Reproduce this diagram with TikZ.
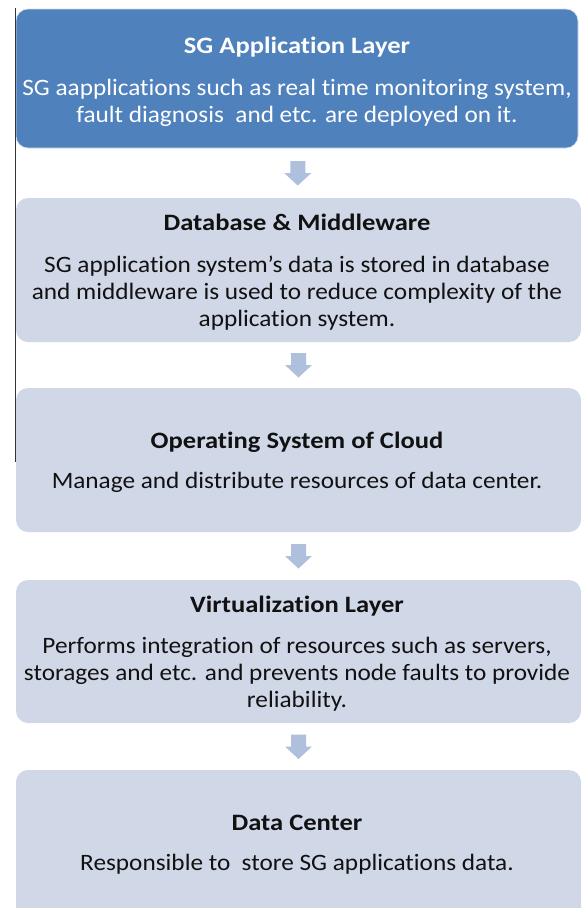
\documentclass[tikz,border=0pt]{standalone}
\usepackage{fontspec}
\setmainfont{Carlito}[Ligatures=NoCommon,FakeStretch=1.075]
\newfontfamily\layertitlefont{Carlito}[Ligatures=NoCommon,FakeStretch=1.13]
\usetikzlibrary{calc}
\definecolor{topblue}{HTML}{4F81BD}
\definecolor{lightbox}{HTML}{D0D8E8}
\definecolor{arrowblue}{HTML}{AFC0DD}
\definecolor{txt}{HTML}{111111}
\begin{document}
\begin{tikzpicture}[x=1pt,y=-1pt,
  layerbox/.style={rectangle,rounded corners=12pt,inner sep=0pt,fill=lightbox,draw=none},
  topbox/.style={layerbox,fill=topblue,draw=white!75!topblue,line width=0.6pt},
  ttl/.style={font=\layertitlefont\fontsize{23.5}{27}\selectfont\bfseries,text=txt,inner sep=0pt,anchor=base},
  body/.style={font=\fontsize{23.5}{27}\selectfont,text=txt,align=center,inner sep=0pt,anchor=base},
  blockarrow/.style={fill=arrowblue,draw=none}]
\useasboundingbox (0,0) rectangle (584,908);
\clip (0,0) rectangle (584,908);
\fill[white] (0,0) rectangle (584,908);
\node[topbox,minimum width=562pt,minimum height=139pt] (b1) at (297,78.5) {};
\node[layerbox,minimum width=565pt,minimum height=144pt] (b2) at (298.5,270) {};
\node[layerbox,minimum width=565pt,minimum height=144pt] (b3) at (298.5,460) {};
\node[layerbox,minimum width=565pt,minimum height=143pt] (b4) at (298.5,651.5) {};
\node[layerbox,minimum width=565pt,minimum height=170pt] (b5) at (298.5,855) {};
\draw[line width=1pt,draw=black!80] (15,8) coordinate (vtop) -- (15,462) coordinate (vbot);
% texts (multi-line nodes: base = baseline of last line)
\node[ttl,text=white] (t1) at (297,53) {SG Application Layer};
\node[body,text=white,font=\fontsize{23.5}{27}\selectfont] (d1) at (297,122) {SG aapplications such as real time monitoring system,\\ fault diagnosis\ \ and etc. are deployed on it.};
\node[ttl] (t2) at (297,230) {Database \& Middleware};
\node[body] (d2) at (297,326) {SG application system’s data is stored in database\\ and middleware is used to reduce complexity of the\\ application system.};
\node[ttl] (t3) at (297,448.5) {Operating System of Cloud};
\node[body] (d3) at (297,488) {Manage and distribute resources of data center.};
\node[ttl] (t4) at (297,612.5) {Virtualization Layer};
\node[body] (d4) at (297,707) {Performs integration of resources such as servers,\\ storages and etc. and prevents node faults to provide\\ reliability.};
\node[ttl] (t5) at (297,830) {Data Center};
\node[body] (d5) at (297,870.5) {Responsible to\ \ store SG applications data.};
% block arrows between layers
\foreach \u/\l [count=\i] in {b1/b2,b2/b3,b3/b4,b4/b5}{
  \coordinate (a\i) at ($(\u.south)!0.5!(\l.north)$);
  \fill[blockarrow] ($(a\i)+(-7.5,-12)$) -- ++(15,0) -- ++(0,12) -- ++(6,0)
     -- ($(a\i)+(0,12.5)$) -- ($(a\i)+(-13.5,0)$) -- ++(6,0) -- cycle;
}
\end{tikzpicture}
\end{document}
